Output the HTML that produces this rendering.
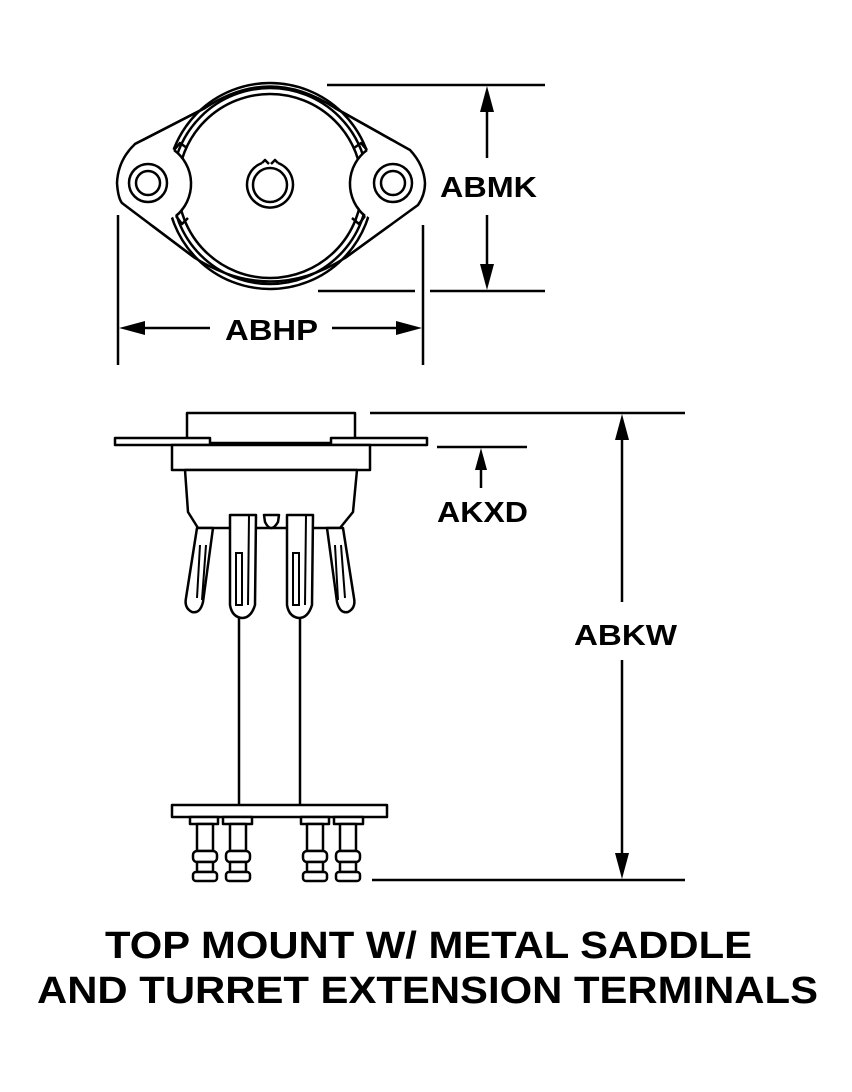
<!DOCTYPE html>
<html><head><meta charset="utf-8"><style>
html,body{margin:0;padding:0;background:#fff}
svg{display:block}
text{font-family:"Liberation Sans",Arial,sans-serif;font-weight:bold;fill:#000}
</style></head><body>
<svg width="852" height="1092" viewBox="0 0 852 1092" xmlns="http://www.w3.org/2000/svg">
<g fill="none" stroke="#000" stroke-width="2.5" stroke-linejoin="round">
<!-- TOP VIEW flange -->
<path d="M205,108 L135,144 Q118,160 117,183 Q118,198 122,203 L195,258 Q270,305 345,258 L418,205 Q425,195 425,183 Q424,165 410,150 L335,108 Q270,65 205,108 Z" fill="#fff"/>
<circle cx="270" cy="186" r="103"/>
<circle cx="270" cy="186" r="98"/>
<circle cx="270" cy="186" r="92"/>
<!-- lobes mask -->
<circle cx="148" cy="183" r="42" fill="#fff" stroke="none"/>
<circle cx="393" cy="183" r="42" fill="#fff" stroke="none"/>
<path d="M205,108 L135,144 Q118,160 117,183 Q118,198 122,203 L195,258"/>
<path d="M335,108 L410,150 Q424,165 425,183 Q425,195 418,205 L345,258"/>
<path d="M174,150 A42,42 0 0 1 176,216"/>
<path d="M367,150 A42,42 0 0 0 365,216"/>
<path d="M174,150 L180,143 L187,148"/>
<path d="M176,216 L182,224 L188,218"/>
<path d="M367,150 L361,143 L354,148"/>
<path d="M365,216 L359,224 L352,218"/>
<circle cx="148" cy="183" r="19"/>
<circle cx="148" cy="183" r="12"/>
<circle cx="393" cy="183" r="19"/>
<circle cx="393" cy="183" r="12"/>
<!-- center hole -->
<path d="M262,163 A23,23 0 1 0 278,163"/>
<path d="M262,163 L265,160 L269,164 M278,163 L275,160 L271,164"/>
<circle cx="270" cy="185" r="17"/>
</g>
<!-- dimension lines top -->
<g stroke="#000" stroke-width="2.5" fill="none">
<line x1="327" y1="85" x2="545" y2="85"/>
<line x1="318" y1="291" x2="415" y2="291"/>
<line x1="430" y1="291" x2="545" y2="291"/>
<line x1="487" y1="100" x2="487" y2="158"/>
<line x1="487" y1="215" x2="487" y2="275"/>
<line x1="118" y1="215" x2="118" y2="365"/>
<line x1="423" y1="225" x2="423" y2="365"/>
<line x1="130" y1="328" x2="210" y2="328"/>
<line x1="332" y1="328" x2="410" y2="328"/>
</g>
<g fill="#000">
<polygon points="487,86 480,112 494,112"/>
<polygon points="487,290 480,264 494,264"/>
<polygon points="119,328 145,321 145,335"/>
<polygon points="422,328 396,321 396,335"/>
</g>
<text x="440" y="197" font-size="29" textLength="97" lengthAdjust="spacingAndGlyphs">ABMK</text>
<text x="225" y="340" font-size="29" textLength="93" lengthAdjust="spacingAndGlyphs">ABHP</text>

<!-- SIDE VIEW -->
<g fill="#fff" stroke="#000" stroke-width="2.5" stroke-linejoin="round">
<rect x="187" y="413" width="168" height="30"/>
<rect x="115" y="438" width="95" height="7"/>
<rect x="331" y="438" width="96" height="7"/>
<rect x="172" y="445" width="198" height="25"/>
<path d="M185,470 L188,512 L198,528 L340,528 L353,512 L357,470 Z"/>
<path d="M197,528 L213,528 L203,602 Q200,614 192,612 Q184,608 186,598 Z"/>
<path d="M200,545 L197,598" stroke-width="2"/>
<path d="M206,545 L202,600" stroke-width="2"/>
<path d="M327,528 L343,528 L354,598 Q356,608 348,612 Q340,614 337,602 Z"/>
<path d="M335,545 L338,600" stroke-width="2"/>
<path d="M341,545 L345,598" stroke-width="2"/>
<path d="M230,515 L256,515 L255,605 Q251,618 242,618 Q232,617 230,605 Z"/>
<path d="M287,515 L313,515 L312,605 Q308,618 299,618 Q289,617 287,605 Z"/>
<path d="M264,515 L279,515 L278,522 Q271,534 265,522 Z"/>
</g>
<g stroke="#000" stroke-width="2" fill="none">
<rect x="236" y="553" width="6" height="52"/>
<line x1="249" y1="515" x2="248" y2="605"/>
<rect x="293" y="553" width="6" height="52"/>
<line x1="306" y1="515" x2="305" y2="605"/>
</g>
<g stroke="#000" stroke-width="2.5">
<line x1="239" y1="618" x2="239" y2="806"/>
<line x1="300" y1="618" x2="300" y2="806"/>
</g>
<g fill="#fff" stroke="#000" stroke-width="2.5" stroke-linejoin="round">
<rect x="172" y="805" width="215" height="12"/>
<rect x="190" y="817" width="28" height="7"/>
<rect x="223" y="817" width="29" height="7"/>
<rect x="301" y="817" width="28" height="7"/>
<rect x="334" y="817" width="29" height="7"/>
</g>
<defs>
<g id="t" fill="#fff" stroke="#000" stroke-width="2.5" stroke-linejoin="round">
<rect x="-8" y="824" width="16" height="27"/>
<rect x="-12" y="851" width="24" height="11" rx="4"/>
<rect x="-8" y="862" width="16" height="10"/>
<rect x="-12" y="872" width="24" height="9" rx="3"/>
</g>
</defs>
<use href="#t" x="205"/>
<use href="#t" x="238"/>
<use href="#t" x="315"/>
<use href="#t" x="348"/>

<g stroke="#000" stroke-width="2.5" fill="none">
<line x1="370" y1="413" x2="685" y2="413"/>
<line x1="372" y1="880" x2="685" y2="880"/>
<line x1="437" y1="447" x2="527" y2="447"/>
<line x1="481" y1="460" x2="481" y2="488"/>
<line x1="622" y1="430" x2="622" y2="602"/>
<line x1="622" y1="660" x2="622" y2="865"/>
</g>
<g fill="#000">
<polygon points="481,448 475,470 487,470"/>
<polygon points="622,414 615,440 629,440"/>
<polygon points="622,879 615,853 629,853"/>
</g>
<text x="437" y="522" font-size="29" textLength="91" lengthAdjust="spacingAndGlyphs">AKXD</text>
<text x="574" y="645" font-size="29" textLength="103" lengthAdjust="spacingAndGlyphs">ABKW</text>

<text x="105" y="958" font-size="38" textLength="647" lengthAdjust="spacingAndGlyphs">TOP MOUNT W/ METAL SADDLE</text>
<text x="37" y="1003" font-size="38" textLength="781" lengthAdjust="spacingAndGlyphs">AND TURRET EXTENSION TERMINALS</text>
</svg>
</body></html>
